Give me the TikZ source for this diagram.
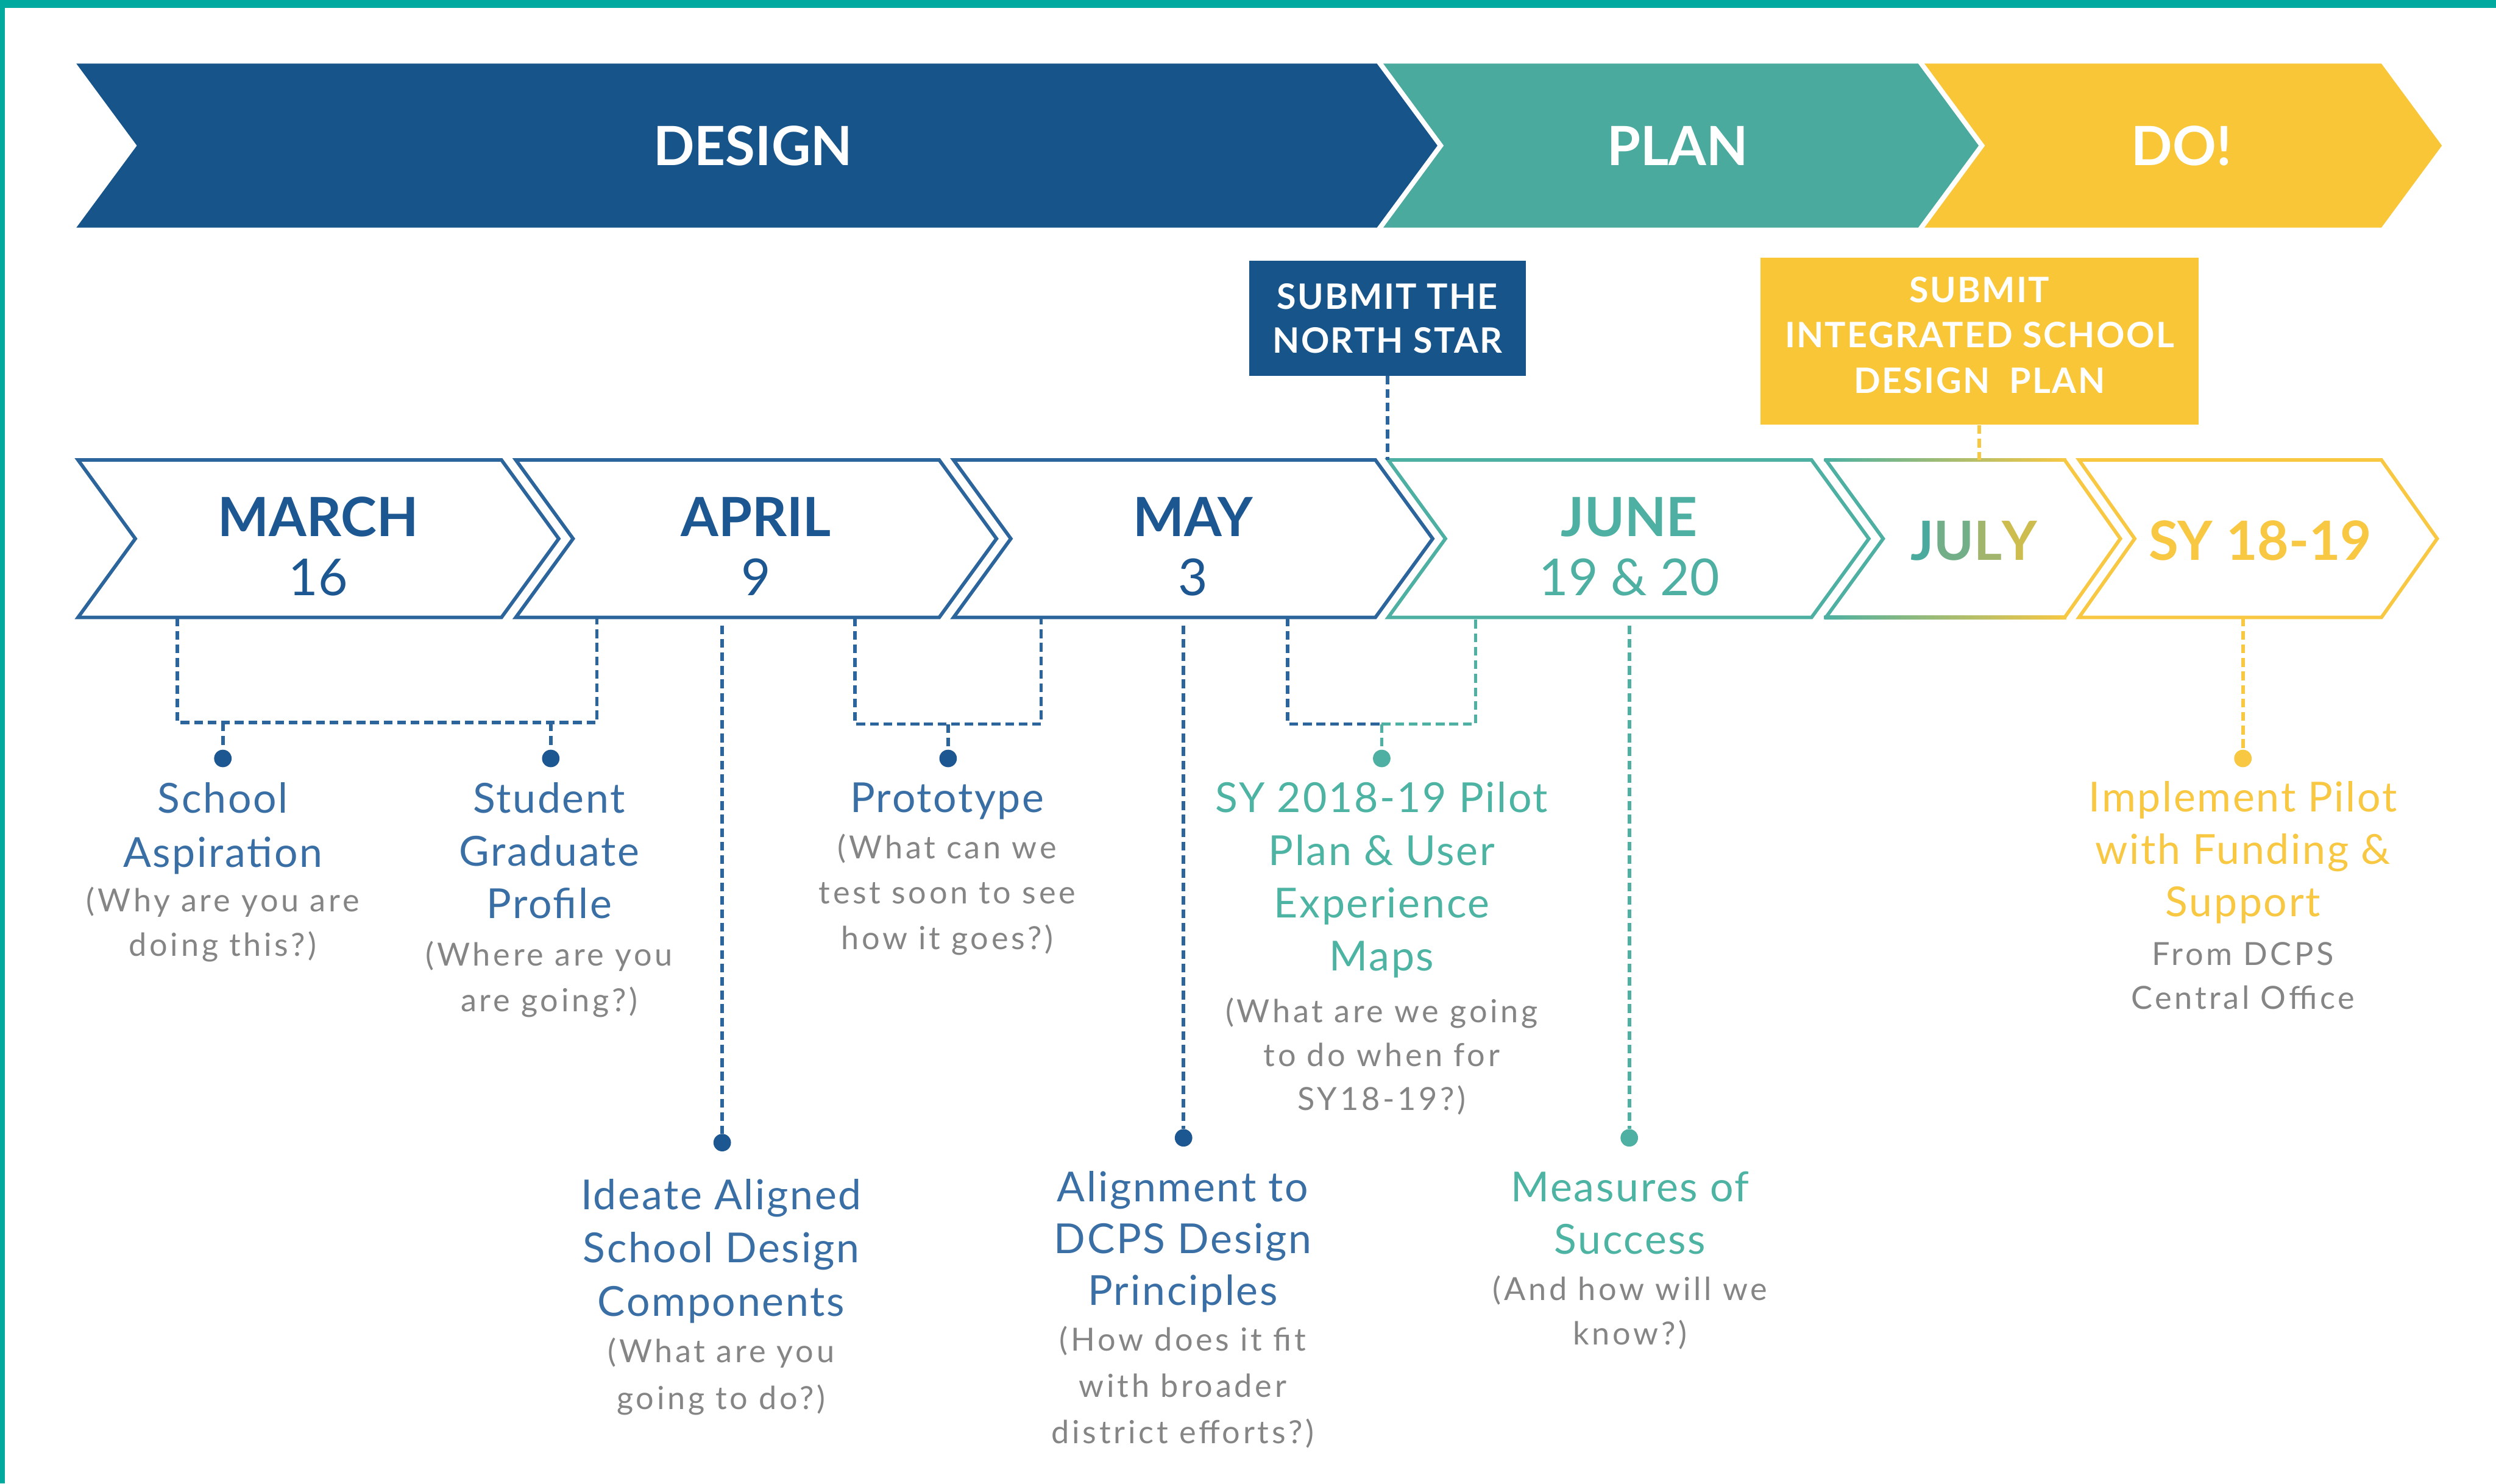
\documentclass[tikz,border=0pt]{standalone}
\usepackage{fontspec}
\setmainfont{Lato}
\newfontfamily\titlefont{Lato}[LetterSpace=4]
\newfontfamily\notefont{Lato}[LetterSpace=9]

\definecolor{frameteal}{HTML}{00A99D}
\definecolor{designblue}{HTML}{17548A}
\definecolor{planteal}{HTML}{4BAA9E}
\definecolor{doyellow}{HTML}{F8C636}
\definecolor{monthblue}{HTML}{2C649C}
\definecolor{monthtext}{HTML}{1D5791}
\definecolor{monthteal}{HTML}{4DB0A2}
\definecolor{monthyellow}{HTML}{F8C843}
\definecolor{labelblue}{HTML}{3A6FA6}
\definecolor{labelteal}{HTML}{4DB3A3}
\definecolor{labelyellow}{HTML}{F8C843}
\definecolor{notegrey}{HTML}{858585}
\definecolor{julyA}{HTML}{4AAA9D}
\definecolor{julyB}{HTML}{72AE88}
\definecolor{julyC}{HTML}{A2B56C}
\definecolor{julyD}{HTML}{CDBC4E}

% chevron band: options, left x, right (top corner) x, top y, bottom y, point depth
\newcommand{\arrowband}[6]{%
  \path[#1] ({#2},{#4}) -- ({#3},{#4}) -- ({#3+#6},{(#4+#5)/2}) -- ({#3},{#5})
    -- ({#2},{#5}) -- ({#2+#6},{(#4+#5)/2}) -- cycle;}

\begin{document}
\begin{tikzpicture}[x=1pt,y=-1pt,
  phaselabel/.style={text=white,font=\fontsize{34}{34}\selectfont\bfseries,anchor=base,inner sep=0pt},
  monthname/.style={font=\fontsize{34}{34}\selectfont\bfseries,anchor=base,inner sep=0pt},
  monthday/.style={font=\fontsize{32}{32}\selectfont,anchor=base,inner sep=0pt},
  deadline/.style={inner sep=0pt,outer sep=0pt,text=white,align=center,
    font=\titlefont\fontsize{22}{27.6}\selectfont\bfseries},
  deadlinetext/.style={text=white,font=\titlefont\fontsize{22}{28.5}\selectfont\bfseries,align=center,anchor=base,inner sep=0pt},
  % multi-line texts are placed by the baseline of their last line
  itemtitle/.style={font=\titlefont\fontsize{26}{33.5}\selectfont,align=center,anchor=base,inner sep=0pt},
  itemnote/.style={font=\notefont\fontsize{20}{28.5}\selectfont,text=notegrey,align=center,anchor=base,inner sep=0pt},
  link/.style={line width=2.2pt,dash pattern=on 5.5pt off 3pt},
  dot/.style={circle,inner sep=0pt,minimum size=11pt},
  outline/.style={line width=2.2pt}
]
\useasboundingbox (0,0) rectangle (1568,932.3);
\fill[white] (0,0) rectangle (1568,932.3);

% frame
\fill[frameteal] (0,0) rectangle (1568,4.8);
\fill[frameteal] (0,0) rectangle (3.2,932.3);

% ---------- phase banner ----------
\arrowband{fill=designblue}{48}{865}{40}{143}{38}
\arrowband{fill=planteal}{869}{1205}{40}{143}{38}
\arrowband{fill=doyellow}{1209}{1496}{40}{143}{38}
\node[phaselabel] (pdesign) at (473,104) {DESIGN};
\node[phaselabel] (pplan) at (1054,104) {PLAN};
\node[phaselabel] (pdo) at (1370.5,104) {DO!};

% ---------- deadlines ----------
\node[deadline,fill=designblue,minimum width=174pt,minimum height=72pt] (ns) at (871.6,200)
  {SUBMIT THE\\NORTH STAR};
\node[inner sep=0pt,fill=doyellow,minimum width=275pt,minimum height=105pt] (yb) at (1243.5,214.5) {};
\node[deadlinetext] (ybtext) at (1243.5,247) {SUBMIT\\INTEGRATED SCHOOL\\DESIGN\ \ PLAN};

% ---------- month row ----------
\arrowband{draw=monthblue,outline}{49}{315}{289}{388}{36}
\arrowband{draw=monthblue,outline}{324}{590}{289}{388}{36}
\arrowband{draw=monthblue,outline}{599}{864}{289}{388}{36}
\arrowband{draw=monthteal,outline}{872}{1138}{289}{388}{36}
% July blends from teal to yellow
\draw[monthteal,outline] (1147,289) -- (1183,338.5) -- (1147,388);
\draw[monthyellow,outline] (1297,289) -- (1332,338.5) -- (1297,388);
\shade[left color=monthteal,right color=monthyellow] (1146,287.9) rectangle (1298,290.1);
\shade[left color=monthteal,right color=monthyellow] (1146,386.9) rectangle (1298,389.1);
\arrowband{draw=monthyellow,outline}{1306}{1496}{289}{388}{35}

\node[monthname,text=monthtext] (mar) at (200,337) {MARCH};
\node[monthday,text=monthtext] (mar16) at (200,374) {16};
\node[monthname,text=monthtext] (apr) at (475,337) {APRIL};
\node[monthday,text=monthtext] (apr9) at (475,374) {9};
\node[monthname,text=monthtext] (may) at (749.5,337) {MAY};
\node[monthday,text=monthtext] (may3) at (749.5,374) {3};
\node[monthname,text=monthteal] (jun) at (1023.5,337) {JUNE};
\node[monthday,text=monthteal] (jun19) at (1023.5,374) {19 \& 20};
\node[monthname] (jul) at (1240,352)
  {\textcolor{julyA}{J}\textcolor{julyB}{U}\textcolor{julyC}{L}\textcolor{julyD}{Y}};
\node[monthname,text=monthyellow] (sy) at (1420,352) {SY 18-19};

% ---------- deadline links ----------
\coordinate (nsrow) at (871.6,289);
\draw[link,monthblue] (ns.south) -- (nsrow);
\coordinate (ybrow) at (1243.5,289);
\draw[link,monthyellow] (yb.south) -- (ybrow);

% ---------- milestone links ----------
% March / April bracket
\coordinate (b1l) at (111.5,388); \coordinate (b1lc) at (111.5,454);
\coordinate (b1r) at (375,388);   \coordinate (b1rc) at (375,454);
\coordinate (b1s1) at (140,454);  \coordinate (b1s2) at (346,454);
\draw[link,monthblue] (b1l) -- (b1lc) -- (b1rc) -- (b1r);
\node[dot,fill=monthtext] (dasp) at (140,476.6) {};
\node[dot,fill=monthtext] (dprof) at (346,476.6) {};
\draw[link,monthblue] (b1s1) -- (dasp);
\draw[link,monthblue] (b1s2) -- (dprof);

% April drop
\coordinate (aprdrop) at (453.7,393);
\node[dot,fill=monthtext] (dideate) at (453.7,718) {};
\draw[link,monthblue] (aprdrop) -- (dideate);

% prototype bracket
\coordinate (b2l) at (537,388); \coordinate (b2lc) at (537,455);
\coordinate (b2r) at (654,388); \coordinate (b2rc) at (654,455);
\coordinate (b2s) at (595.6,455);
\draw[link,monthblue] (b2l) -- (b2lc) -- (b2rc) -- (b2r);
\node[dot,fill=monthtext] (dproto) at (595.6,476.6) {};
\draw[link,monthblue] (b2s) -- (dproto);

% May drop
\coordinate (maydrop) at (743.5,393);
\node[dot,fill=monthtext] (dalign) at (743.5,715) {};
\draw[link,monthblue] (maydrop) -- (dalign);

% pilot plan bracket (blue into teal)
\coordinate (b3l) at (809,388); \coordinate (b3lc) at (809,455);
\coordinate (b3r) at (927,388); \coordinate (b3rc) at (927,455);
\coordinate (b3s) at (868,455);
\draw[link,monthblue] (b3l) -- (b3lc) -- (b3s);
\draw[link,monthteal] (b3s) -- (b3rc) -- (b3r);
\node[dot,fill=monthteal] (dpilot) at (868,476.6) {};
\draw[link,monthteal] (b3s) -- (dpilot);

% June drop
\coordinate (jundrop) at (1023.5,393);
\node[dot,fill=monthteal] (dmeasure) at (1023.5,715) {};
\draw[link,monthteal] (jundrop) -- (dmeasure);

% school year drop
\coordinate (sydrop) at (1409,388);
\node[dot,fill=monthyellow] (dimpl) at (1409,476.6) {};
\draw[link,monthyellow] (sydrop) -- (dimpl);

% ---------- milestone texts ----------
\node[itemtitle,text=labelblue,font=\titlefont\fontsize{26}{34}\selectfont] (taspir) at (140,545) {School\\Aspiration};
\node[itemnote,font=\notefont\fontsize{20}{28}\selectfont] (naspir) at (140,601) {(Why are you are\\doing this?)};

\node[itemtitle,text=labelblue,font=\titlefont\fontsize{26}{33}\selectfont] (tprof) at (345,577) {Student\\Graduate\\Profile};
\node[itemnote] (nprof) at (345,635.5) {(Where are you\\are going?)};

\node[itemtitle,text=labelblue] (tproto) at (595,510.5) {Prototype};
\node[itemnote] (nproto) at (595,596.5) {(What can we\\test soon to see\\how it goes?)};

\node[itemtitle,text=labelteal,font=\titlefont\fontsize{26}{33.2}\selectfont] (tpilot) at (868,610) {SY 2018-19 Pilot\\Plan \& User\\Experience\\Maps};
\node[itemnote,font=\notefont\fontsize{20}{27.5}\selectfont] (npilot) at (868,697.5) {(What are we going\\to do when for\\SY18-19?)};

\node[itemtitle,text=labelyellow,font=\titlefont\fontsize{26}{33}\selectfont] (timpl) at (1409,576) {Implement Pilot\\with Funding \&\\Support};
\node[itemnote,font=\notefont\fontsize{20}{27.5}\selectfont] (nimpl) at (1409,634) {From DCPS\\Central Office};

\node[itemtitle,text=labelblue] (tideate) at (453,827) {Ideate Aligned\\School Design\\Components};
\node[itemnote,font=\notefont\fontsize{20}{29.5}\selectfont] (nideate) at (453,885.5) {(What are you\\going to do?)};

\node[itemtitle,text=labelblue,font=\titlefont\fontsize{26}{32.5}\selectfont] (talign) at (743,820) {Alignment to\\DCPS Design\\Principles};
\node[itemnote,font=\notefont\fontsize{20}{29}\selectfont] (nalign) at (743,907) {(How does it fit\\with broader\\district efforts?)};

\node[itemtitle,text=labelteal,font=\titlefont\fontsize{26}{33}\selectfont] (tmeasure) at (1024,788) {Measures of\\Success};
\node[itemnote,font=\notefont\fontsize{20}{28}\selectfont] (nmeasure) at (1024,845) {(And how will we\\know?)};
\end{tikzpicture}
\end{document}
